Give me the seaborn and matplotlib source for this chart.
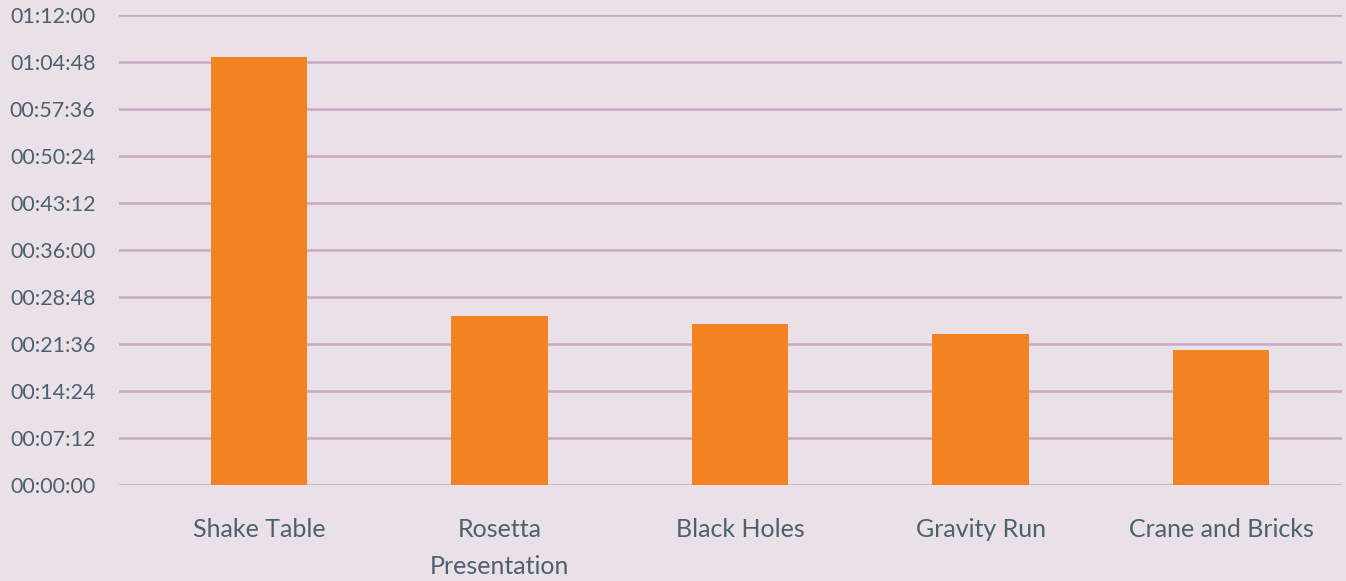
import matplotlib
matplotlib.use("Agg")
import matplotlib.pyplot as plt
from matplotlib.ticker import FuncFormatter, MultipleLocator
import seaborn as sns
import pandas as pd

# Average time spent per exhibit (seconds)
exhibits = ["Shake Table", "Rosetta\nPresentation", "Black Holes", "Gravity Run", "Crane and Bricks"]
durations_s = [3934, 1553, 1480, 1388, 1241]

BG = "#EAE0E8"
BAR = "#F38321"
GRID = "#C8A9C3"
TEXT = "#4D616D"

sns.set_theme(style="white")
plt.rcParams["font.family"] = ["Lato", "DejaVu Sans"]

df = pd.DataFrame({"exhibit": exhibits, "seconds": durations_s})

fig = plt.figure(figsize=(13.46, 5.81), dpi=100, facecolor=BG)
ax = fig.add_axes([119 / 1346, 1 - 485 / 581, (1342 - 119) / 1346, (485 - 15) / 581])
ax.set_facecolor(BG)

sns.barplot(data=df, x="exhibit", y="seconds", color=BAR, width=0.4,
            saturation=1, linewidth=0, ax=ax, zorder=3)

ax.set_ylim(0, 4320)
ax.set_xlim(-0.582, 4.503)
ax.yaxis.set_major_locator(MultipleLocator(432))


def hms(v, _pos):
    v = int(round(v))
    return f"{v // 3600:02d}:{(v % 3600) // 60:02d}:{v % 60:02d}"


ax.yaxis.set_major_formatter(FuncFormatter(hms))
ax.grid(axis="y", color=GRID, linewidth=1.8, zorder=0)
ax.grid(axis="x", visible=False)
for s in ax.spines.values():
    s.set_visible(False)

ax.set_xlabel("")
ax.set_ylabel("")
ax.tick_params(axis="y", length=0, pad=17, labelsize=15.5, labelcolor=TEXT)
ax.tick_params(axis="x", length=0, pad=23.5, labelsize=18, labelcolor=TEXT)
for lbl in ax.get_xticklabels():
    lbl.set_linespacing(1.75)
for lbl in ax.get_yticklabels():
    lbl.set_va("center_baseline")

fig.savefig("out.png", dpi=100, facecolor=BG)
